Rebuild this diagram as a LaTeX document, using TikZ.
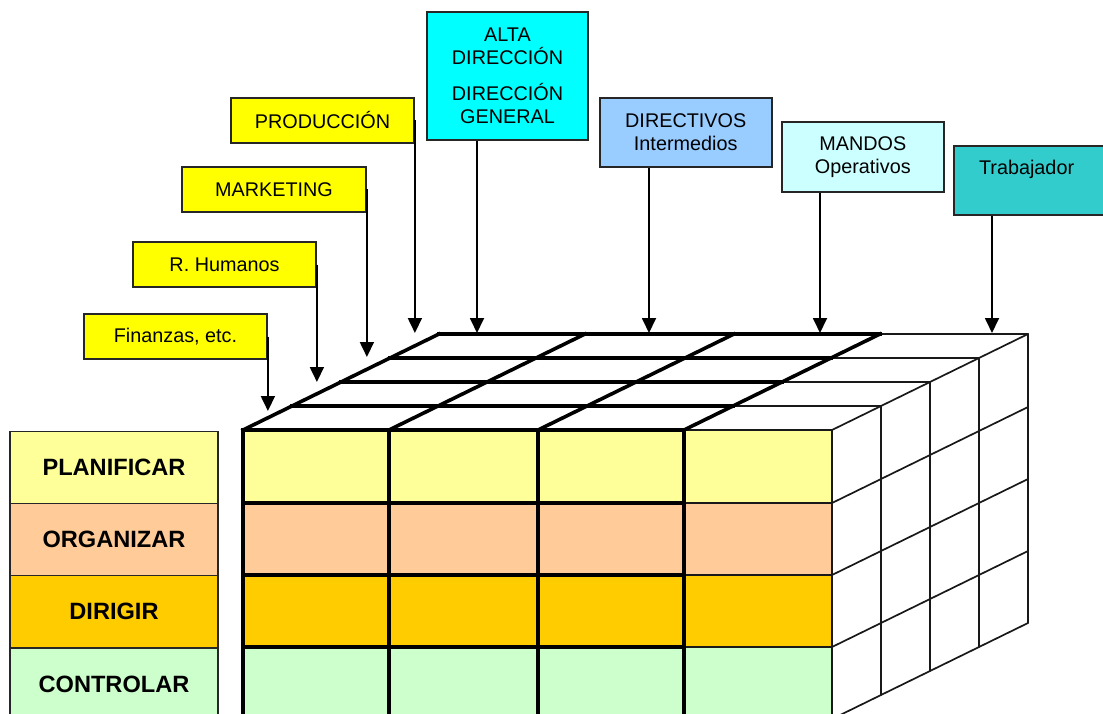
\documentclass[tikz,border=0pt]{standalone}
\usepackage{fontspec}
\setmainfont{Liberation Sans}
\usetikzlibrary{arrows.meta}

\definecolor{cArea}{HTML}{FFFF00}
\definecolor{cAlta}{HTML}{00FFFF}
\definecolor{cDirect}{HTML}{99CCFF}
\definecolor{cMandos}{HTML}{CCFFFF}
\definecolor{cTrab}{HTML}{33CCCC}
\definecolor{cPlan}{HTML}{FFFF99}
\definecolor{cOrg}{HTML}{FFCC99}
\definecolor{cDir}{HTML}{FFCC00}
\definecolor{cCtrl}{HTML}{CCFFCC}

\begin{document}
\begin{tikzpicture}[x=1pt,y=-1pt,
  lbox/.style={draw=black!85, line width=1.8pt, align=center, inner sep=0pt,
    font=\fontsize{19.8}{23}\selectfont},
  rowlbl/.style={draw=black!85, line width=1.6pt, inner sep=0pt,
    minimum width=208pt, minimum height=72pt,
    font=\bfseries\fontsize{23.6}{26}\selectfont},
  arr/.style={line width=1.8pt, -{Triangle[length=15pt,width=14pt]}},
  thickln/.style={line width=3.6pt, line cap=rect},
  thinln/.style={line width=1.7pt, draw=black!90, line cap=round}]
\useasboundingbox (0,0) rectangle (1103,714);
\clip (0,0) rectangle (1103,714);

% functional areas (stair of yellow boxes)
\node[lbox, fill=cArea, minimum width=183pt, minimum height=45pt] (fin)  at (175.5,336.5) {Finanzas, etc.};
\node[lbox, fill=cArea, minimum width=183pt, minimum height=45pt] (rh)   at (224.5,264.5) {R. Humanos};
\node[lbox, fill=cArea, minimum width=184pt, minimum height=45pt] (mkt)  at (274,189.5)   {MARKETING};
\node[lbox, fill=cArea, minimum width=183pt, minimum height=45pt] (prod) at (322.5,120.5) {PRODUCCIÓN};

% hierarchy levels
\node[lbox, fill=cAlta, minimum width=161pt, minimum height=128pt] (alta) at (507.5,76)
  {ALTA\\DIRECCIÓN\\[13pt]DIRECCIÓN\\GENERAL};
\node[lbox, fill=cDirect, minimum width=172pt, minimum height=69pt] (dirv) at (685.7,132.5)
  {DIRECTIVOS\\Intermedios};
\node[lbox, fill=cMandos, minimum width=162pt, minimum height=70pt] (mand) at (862.8,156.7)
  {MANDOS\\Operativos};
\node[lbox, fill=cTrab, minimum width=160pt, minimum height=69pt] (trabBox) at (1034,180.5) {};
\node[inner sep=0pt, font=\fontsize{19.8}{23}\selectfont] (trab) at (1026.6,169) {Trabajador};

% management functions
\node[rowlbl, fill=cPlan] (plan) at (114,467.5) {PLANIFICAR};
\node[rowlbl, fill=cOrg]  (org)  at (114,539.5) {ORGANIZAR};
\node[rowlbl, fill=cDir]  (dirg) at (114,611.5) {DIRIGIR};
\node[rowlbl, fill=cCtrl] (ctrl) at (114,684)   {CONTROLAR};

% front face of the cube
\foreach \ya/\yb/\c in {430/503/cPlan,503/575/cOrg,575/647/cDir,647/719/cCtrl}
  \fill[\c] (243,\ya) rectangle (832,\yb);

% thin part: last front column, right side, and last strip of the top
\draw[thinln] (684,430) rectangle (832,719);
\foreach \y in {503,575,647}
  \draw[thinln] (684,\y) -- (832,\y);
\foreach \k in {1,...,4}
  \draw[thinln] ({684+49*\k},{430-24*\k}) -- ({832+49*\k},{430-24*\k});
\draw[thinln] (832,430) -- (1028,334);
\foreach \k in {1,...,4}
  \draw[thinln] ({832+49*\k},{430-24*\k}) -- ({832+49*\k},{719-24*\k});
\foreach \y in {503,575,647,719}
  \draw[thinln] (832,\y) -- (1028,{\y-96});

% thick grid: front cells and top cells of the first three columns
\foreach \x in {243,389,538,684}
  \draw[thickln] (\x,430) -- (\x,719);
\foreach \y in {430,503,575,647}
  \draw[thickln] (243,\y) -- (684,\y);
\foreach \k in {1,...,4}
  \draw[thickln] ({243+49*\k},{430-24*\k}) -- ({684+49*\k},{430-24*\k});
\foreach \x in {243,389,538,684}
  \draw[thickln] (\x,430) -- ({\x+196},334);

% arrow end points on the top of the cube
\coordinate (tFin)  at (fin.east |- 0,411);
\coordinate (tRh)   at (rh.east |- 0,382);
\coordinate (tMkt)  at (mkt.east |- 0,357);
\coordinate (tProd) at (prod.east |- 0,333);
\coordinate (tAlta) at (477,333);
\coordinate (tDirv) at (649,333);
\coordinate (tMand) at (820,333);
\coordinate (tTrab) at (992,333);

\draw[arr] (fin.east)  -- (tFin);
\draw[arr] (rh.east)   -- (tRh);
\draw[arr] (mkt.east)  -- (tMkt);
\draw[arr] (prod.east) -- (tProd);
\draw[arr] (alta.south -| tAlta) -- (tAlta);
\draw[arr] (dirv.south -| tDirv) -- (tDirv);
\draw[arr] (mand.south -| tMand) -- (tMand);
\draw[arr] (trabBox.south -| tTrab) -- (tTrab);
\end{tikzpicture}
\end{document}
